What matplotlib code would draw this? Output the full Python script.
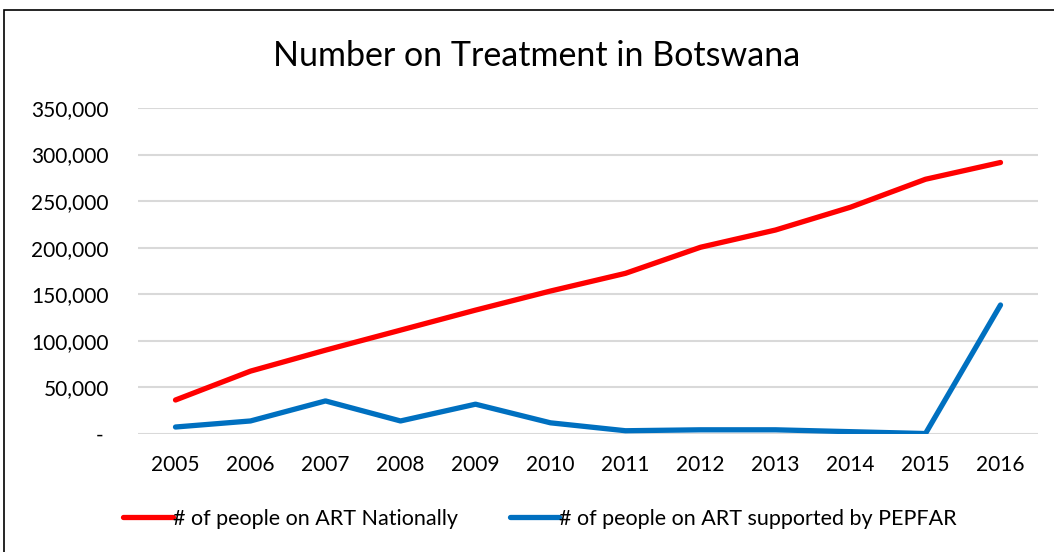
import numpy as np
import matplotlib.pyplot as plt
from matplotlib.ticker import FuncFormatter
from matplotlib.patches import Rectangle

plt.rcParams['font.family'] = ['Lato', 'DejaVu Sans']

years = ['2005', '2006', '2007', '2008', '2009', '2010',
         '2011', '2012', '2013', '2014', '2015', '2016']
national = [36500, 67500, 90000, 111500, 133000, 153500,
            172500, 200500, 219000, 243500, 273500, 291500]
pepfar = [7500, 14000, 35500, 14000, 32000, 12000,
          3500, 4500, 4500, 2500, 500, 138500]

fig = plt.figure(figsize=(10.54, 5.52), dpi=100)
# chart border (left/top edges only show; right/bottom run off the image)
fig.patches.append(Rectangle((4 / 1054, -0.1), 1.2, (552 - 10) / 552 + 0.1,
                             transform=fig.transFigure, fill=False,
                             edgecolor='black', linewidth=1.2))

ax = fig.add_axes([138 / 1054, 1 - 434 / 552, 900 / 1054, 326 / 552])
x = np.arange(len(years))
ax.plot(x, national, color='#FF0000', linewidth=3.8,
        solid_capstyle='round', label='# of people on ART Nationally')
ax.plot(x, pepfar, color='#0070C0', linewidth=3.8,
        solid_capstyle='round', label='# of people on ART supported by PEPFAR')

ax.set_xlim(-0.5, len(years) - 0.5)
ax.set_ylim(0, 350000)
ax.set_yticks(np.arange(0, 350001, 50000))
ax.yaxis.set_major_formatter(FuncFormatter(
    lambda v, p: '- ' if v == 0 else f'{int(v):,}'))
ax.set_xticks(x)
ax.set_xticklabels(years)
ax.grid(axis='y', color='#D9D9D9', linewidth=1.5)
ax.set_axisbelow(True)
for s in ax.spines.values():
    s.set_visible(False)
ax.tick_params(length=0, labelsize=15, colors='black')
ax.tick_params(axis='y', pad=21)
ax.tick_params(axis='x', pad=15)

fig.text(537 / 1054, 1 - 56 / 552, 'Number on Treatment in Botswana',
         ha='center', va='center', fontsize=24.5)

fig.legend(loc='center', bbox_to_anchor=(540 / 1054, 1 - 519 / 552), ncol=2,
           frameon=False, fontsize=15.5, handlelength=2.3,
           handletextpad=0.0, columnspacing=2.4)

fig.savefig('out.png', dpi=100)
